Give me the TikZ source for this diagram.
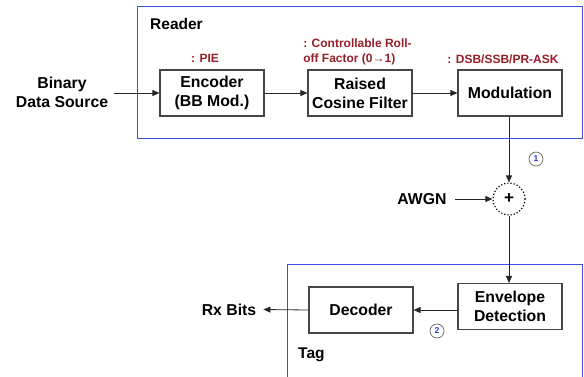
\documentclass[tikz,border=0pt]{standalone}
\usepackage{fontspec}
\setmainfont{Liberation Sans}
\usetikzlibrary{arrows.meta}
\definecolor{frameblue}{RGB}{60,80,225}
\definecolor{labred}{RGB}{150,30,40}
\definecolor{boxgray}{RGB}{70,70,70}
\definecolor{numblue}{RGB}{40,60,230}
\tikzset{
  blk/.style={draw=boxgray, line width=1.1pt, fill=white, minimum width=104pt, minimum height=46pt, inner sep=0pt, align=center, font=\fontsize{15.8}{19}\selectfont\bfseries},
  plain/.style={inner sep=0pt, align=center, font=\fontsize{15.8}{19}\selectfont\bfseries},
  note/.style={inner sep=0pt, align=left, text=labred, font=\fontsize{12}{15}\selectfont\bfseries},
  frame/.style={draw=frameblue, line width=1pt},
  conn/.style={draw=black!85, line width=0.8pt, -{Triangle[length=7pt,width=6pt]}},
  num/.style={circle, draw=black!60, line width=0.7pt, minimum size=14pt, inner sep=0pt, text=numblue, font=\fontsize{8.5}{8.5}\selectfont\bfseries},
  grp/.style={inner sep=0pt, anchor=west, font=\fontsize{15.5}{17}\selectfont\bfseries},
}
\begin{document}
\begin{tikzpicture}[x=1pt,y=-1pt]
\useasboundingbox (0,0) rectangle (584,376);
% frames
\draw[frame] (137,6) rectangle (582,138);
\draw[frame] (287,380) -- (287,264) -- (582,264) -- (582,380);
\node[grp] (reader) at (150,24) {Reader};
\node[grp] (tag) at (298,355) {Tag};
% blocks
\node[blk] (enc) at (212,93) {Encoder\\(BB Mod.)};
\node[blk] (rcf) at (360,93) {Raised\\Cosine Filter};
\node[blk] (mod) at (510,93) {Modulation};
\node[blk] (env) at (510,306.5) {Envelope\\Detection};
\node[blk] (dec) at (361,310) {Decoder};
% notes
\node[note] (pie) at (205,58) {: PIE};
\node[note] (roll) at (357.5,51.5) {: Controllable Roll-\\off Factor (0→1)};
\node[note] (dsb) at (503,59) {: DSB/SSB/PR-ASK};
% inputs / outputs
\node[plain] (src) at (62,92) {Binary\\Data Source};
\node[plain] (awgn) at (422,199) {AWGN};
\node[plain] (rx) at (229,309.5) {Rx Bits};
% adder
\node[circle, draw=black, dotted, line width=1.2pt, minimum size=32pt, inner sep=0pt, font=\fontsize{17}{17}\selectfont\bfseries] (add) at (509,199) {+};
% numbers
\node[num] (n1) at (536,159) {1};
\node[num] (n2) at (437,331) {2};
% connectors
\draw[conn] ([xshift=6pt]src.east |- enc.west) -- (enc.west);
\draw[conn] (enc.east) -- (rcf.west);
\draw[conn] (rcf.east) -- (mod.west);
\draw[conn] (mod.south -| add.north) -- (add.north);
\draw[conn] ([xshift=8pt]awgn.east) -- (add.west);
\draw[conn] (add.south) -- (add.south |- env.north);
\draw[conn] (env.west |- dec.east) -- (dec.east);
\draw[conn] (dec.west) -- ([xshift=7pt]rx.east);
\end{tikzpicture}
\end{document}
